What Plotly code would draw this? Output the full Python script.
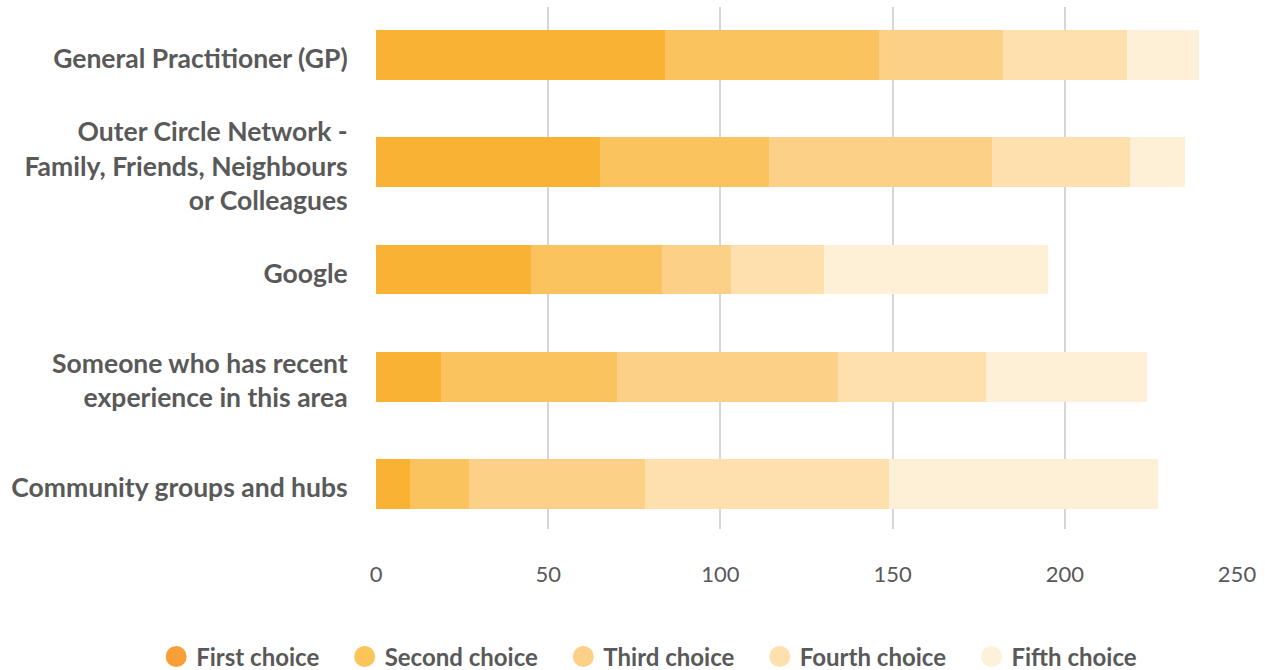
import plotly.graph_objects as go

categories = [
    "General Practitioner (GP)",
    "Outer Circle Network -<br>Family, Friends, Neighbours<br>or Colleagues",
    "Google",
    "Someone who has recent<br>experience in this area",
    "Community groups and hubs",
]
series_names = ["First choice", "Second choice", "Third choice", "Fourth choice", "Fifth choice"]
first_choice = [84, 65, 45, 19, 10]
second_choice = [62, 49, 38, 51, 17]
third_choice = [36, 65, 20, 64, 51]
fourth_choice = [36, 40, 27, 43, 71]
fifth_choice = [21, 16, 65, 47, 78]
x_ticks = [0, 50, 100, 150, 200, 250]

bar_colors = ["#F9B233", "#FBC35E", "#FCD087", "#FDE0AE", "#FDF0D7"]
legend_colors = ["#F99F38", "#FBC55A", "#FCD187", "#FEE0AF", "#FDF2D9"]

series = [first_choice, second_choice, third_choice, fourth_choice, fifth_choice]
FONT = "Lato"
TXT = "#595959"
PAD = "\u00a0" * 3 + '<span style="font-size:12px">\u00a0</span>'

fig = go.Figure()
for name, vals, col in zip(series_names, series, bar_colors):
    fig.add_trace(go.Bar(
        y=categories, x=vals, orientation="h", name=name,
        marker=dict(color=col, line=dict(width=0)),
        width=0.466, showlegend=False,
    ))
for i, (name, col) in enumerate(zip(series_names, legend_colors)):
    fig.add_trace(go.Scatter(
        x=[None], y=[None], mode="markers",
        name=name + (PAD if i < len(series_names) - 1 else ""),
        marker=dict(color=col, size=16, symbol="circle", line=dict(color=col, width=5)),
    ))

fig.update_layout(
    width=1265, height=670,
    margin=dict(l=376, r=28, t=7, b=141, autoexpand=False),
    paper_bgcolor="white", plot_bgcolor="white",
    barmode="stack",
    font=dict(family=FONT, color=TXT),
    legend=dict(
        orientation="h", xref="paper", yref="paper",
        x=-0.2553, y=-0.245, xanchor="left", yanchor="middle",
        font=dict(family=FONT, size=24, color=TXT, weight="bold"),
        itemsizing="trace", traceorder="normal",
    ),
)
fig.update_xaxes(
    range=[0, 250], tickvals=x_ticks, showgrid=True,
    gridcolor="#D6D6D6", gridwidth=1.5, zeroline=False, showline=False,
    ticks="outside", ticklen=26, tickcolor="rgba(0,0,0,0)",
    tickfont=dict(family=FONT, size=22, color=TXT),
)
fig.update_yaxes(
    type="category", categoryorder="array", categoryarray=categories,
    range=[4.4196, -0.4476], showgrid=False, zeroline=False, showline=False,
    ticks="outside", ticklen=22, tickcolor="rgba(0,0,0,0)",
    ticklabelshift=-4,
    tickfont=dict(family=FONT, size=26.5, color=TXT, weight="bold"),
)
fig.write_html("out.html")
